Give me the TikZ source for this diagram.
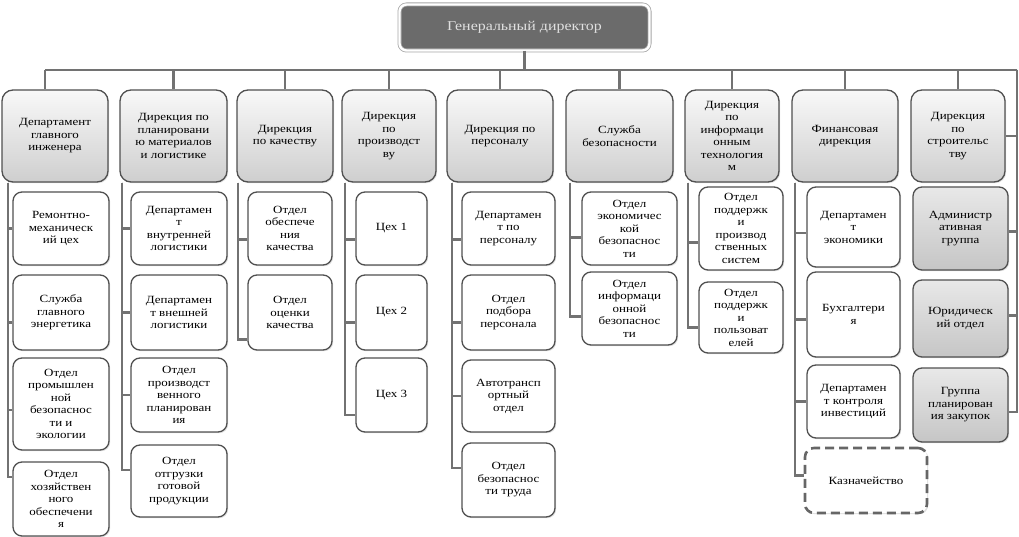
\documentclass[tikz,border=0pt]{standalone}
\usepackage{fontspec}
\setmainfont{Liberation Serif}[FakeStretch=1.18]
\usetikzlibrary{shadows}
\definecolor{lineC}{HTML}{727272}
\definecolor{boxC}{HTML}{505050}
\definecolor{topC}{HTML}{6B6B6B}
\begin{document}
\begin{tikzpicture}[x=1pt,y=-1pt,
  conn/.style={draw=lineC,line width=2.4pt},
  box/.style={rounded corners=9pt,draw=boxC,line width=1.3pt,align=center,inner sep=1pt,
    font=\fontsize{11}{12.5}\selectfont,text=black,
    drop shadow={shadow xshift=1.2pt,shadow yshift=-1.2pt,opacity=0.25}},
  head/.style={box,top color=gray!5,bottom color=gray!38,minimum height=92,rounded corners=11pt},
  sub/.style={box,fill=white},
  gsub/.style={box,top color=gray!18,bottom color=gray!45},
  dashbox/.style={box,fill=white,draw=gray!80!black,line width=2.6pt,dash pattern=on 9pt off 5pt},
  topbox/.style={rounded corners=7pt,draw=gray!70,line width=0.8pt,double=white,double distance=2.4pt,
    fill=topC,text=white!88!black,font=\fontsize{13.5}{15}\selectfont,
    minimum width=250,minimum height=46}
]
\useasboundingbox (0,0) rectangle (1019,537);

% top
\node[topbox] (top) at (524.5,27.5) {Генеральный директор};
\coordinate (busL) at (45,70);
\coordinate (busR) at (1017,70);

% heads
\node[head,minimum width=106] (h1) at (55,136) {Департамент\\главного\\инженера};
\node[head,minimum width=107] (h2) at (173.5,136) {Дирекция по\\планировани\\ю материалов\\и логистике};
\node[head,minimum width=96] (h3) at (285,136) {Дирекция\\по качеству};
\node[head,minimum width=94] (h4) at (389,136) {Дирекция\\по\\производст\\ву};
\node[head,minimum width=106] (h5) at (500,136) {Дирекция по\\персоналу};
\node[head,minimum width=107] (h6) at (619.5,136) {Служба\\безопасности};
\node[head,minimum width=94] (h7) at (732,136) {Дирекция\\по\\информаци\\онным\\технология\\м};
\node[head,minimum width=106] (h8) at (845,136) {Финансовая\\дирекция};
\node[head,minimum width=94] (h9) at (958,136) {Дирекция\\по\\строительс\\тву};

% column 1
\node[sub,minimum width=96,minimum height=73] (s11) at (61,228.5) {Ремонтно-\\механическ\\ий цех};
\node[sub,minimum width=96,minimum height=75] (s12) at (61,312.5) {Служба\\главного\\энергетика};
\node[sub,minimum width=96,minimum height=92] (s13) at (61,404) {Отдел\\промышлен\\ной\\безопаснос\\ти и\\экологии};
\node[sub,minimum width=96,minimum height=74] (s14) at (61,499) {Отдел\\хозяйствен\\ного\\обеспечени\\я};
% column 2
\node[sub,minimum width=96,minimum height=73] (s21) at (179,228.5) {Департамен\\т\\внутренней\\логистики};
\node[sub,minimum width=96,minimum height=75] (s22) at (179,312.5) {Департамен\\т внешней\\логистики};
\node[sub,minimum width=96,minimum height=74] (s23) at (179,395) {Отдел\\производст\\венного\\планирован\\ия};
\node[sub,minimum width=96,minimum height=72] (s24) at (179,481) {Отдел\\отгрузки\\готовой\\продукции};
% column 3
\node[sub,minimum width=84,minimum height=73] (s31) at (290,228.5) {Отдел\\обеспече\\ния\\качества};
\node[sub,minimum width=84,minimum height=75] (s32) at (290,312.5) {Отдел\\оценки\\качества};
% column 4
\node[sub,minimum width=71,minimum height=73] (s41) at (391.5,228.5) {Цех 1};
\node[sub,minimum width=71,minimum height=75] (s42) at (391.5,312.5) {Цех 2};
\node[sub,minimum width=71,minimum height=74] (s43) at (391.5,395) {Цех 3};
% column 5
\node[sub,minimum width=93,minimum height=73] (s51) at (508.5,228.5) {Департамен\\т по\\персоналу};
\node[sub,minimum width=93,minimum height=75] (s52) at (508.5,312.5) {Отдел\\подбора\\персонала};
\node[sub,minimum width=93,minimum height=72] (s53) at (508.5,396) {Автотрансп\\ортный\\отдел};
\node[sub,minimum width=93,minimum height=74] (s54) at (508.5,480) {Отдел\\безопаснос\\ти труда};
% column 6
\node[sub,minimum width=95,minimum height=73] (s61) at (629.5,228.5) {Отдел\\экономичес\\кой\\безопаснос\\ти};
\node[sub,minimum width=95,minimum height=73] (s62) at (629.5,308.5) {Отдел\\информаци\\онной\\безопаснос\\ти};
% column 7
\node[sub,minimum width=84,minimum height=83] (s71) at (741,228.5) {Отдел\\поддержк\\и\\производ\\ственных\\систем};
\node[sub,minimum width=84,minimum height=71] (s72) at (741,317.5) {Отдел\\поддержк\\и\\пользоват\\елей};
% column 8
\node[sub,minimum width=93,minimum height=80] (s81) at (853.5,227) {Департамен\\т\\экономики};
\node[sub,minimum width=93,minimum height=85] (s82) at (853.5,314.5) {Бухгалтери\\я};
\node[sub,minimum width=93,minimum height=73] (s83) at (853.5,401.5) {Департамен\\т контроля\\инвестиций};
\node[dashbox,minimum width=122,minimum height=65] (s84) at (866,480.5) {Казначейство};
% column 9
\node[gsub,minimum width=95,minimum height=83] (s91) at (960.5,228.5) {Администр\\ативная\\группа};
\node[gsub,minimum width=95,minimum height=77] (s92) at (960.5,318.5) {Юридическ\\ий отдел};
\node[gsub,minimum width=95,minimum height=74] (s93) at (960.5,405) {Группа\\планирован\\ия закупок};

% vertical line positions
\coordinate (c1) at (8,0);
\coordinate (c2) at (122,0);
\coordinate (c3) at (238,0);
\coordinate (c4) at (345,0);
\coordinate (c5) at (452,0);
\coordinate (c6) at (570,0);
\coordinate (c7) at (688,0);
\coordinate (c8) at (795,0);

% bus
\draw[conn] (top.south) -- (top.south |- busL);
\draw[conn] (busL) -- (busR);
\draw[conn] (busL) -- (busL |- h1.north);
\foreach \h in {h2,h3,h4,h5,h6,h7,h8,h9}
  \draw[conn] (\h.north) -- (\h.north |- busL);

% column connectors
\draw[conn] (h1.south -| c1) |- (s11.west);
\draw[conn] (h1.south -| c1) |- ([yshift=-10pt]s12.west);
\draw[conn] (h1.south -| c1) |- ([yshift=-6pt]s13.west);
\draw[conn] (h1.south -| c1) |- ([yshift=22pt]s14.west);

\draw[conn] (h2.south -| c2) |- (s21.west);
\draw[conn] (h2.south -| c2) |- (s22.west);
\draw[conn] (h2.south -| c2) |- (s23.west);
\draw[conn] (h2.south -| c2) |- ([yshift=11pt]s24.west);

\draw[conn] (h3.south -| c3) |- ([yshift=-11pt]s31.west);
\draw[conn] (h3.south -| c3) |- ([yshift=-27pt]s32.west);

\draw[conn] (h4.south -| c4) |- ([yshift=-11pt]s41.west);
\draw[conn] (h4.south -| c4) |- ([yshift=-10pt]s42.west);
\draw[conn] (h4.south -| c4) |- ([yshift=-20pt]s43.west);

\draw[conn] (h5.south -| c5) |- ([yshift=-11pt]s51.west);
\draw[conn] (h5.south -| c5) |- ([yshift=-10pt]s52.west);
\draw[conn] (h5.south -| c5) |- (s53.west);
\draw[conn] (h5.south -| c5) |- ([yshift=12pt]s54.west);

\draw[conn] (h6.south -| c6) |- ([yshift=-9pt]s61.west);
\draw[conn] (h6.south -| c6) |- ([yshift=-8pt]s62.west);

\draw[conn] (h7.south -| c7) |- ([yshift=-14pt]s71.west);
\draw[conn] (h7.south -| c7) |- ([yshift=-10pt]s72.west);

\draw[conn] (h8.south -| c8) |- ([yshift=-6pt]s81.west);
\draw[conn] (h8.south -| c8) |- ([yshift=-5pt]s82.west);
\draw[conn] (h8.south -| c8) |- (s83.west);
\draw[conn] (h8.south -| c8) |- ([yshift=5pt]s84.west);

\draw[conn] (busR) |- (h9.east);
\draw[conn] (busR) |- ([yshift=-3pt]s91.east);
\draw[conn] (busR) |- ([yshift=3pt]s92.east);
\draw[conn] (busR) |- ([yshift=-7pt]s93.east);
\end{tikzpicture}
\end{document}
